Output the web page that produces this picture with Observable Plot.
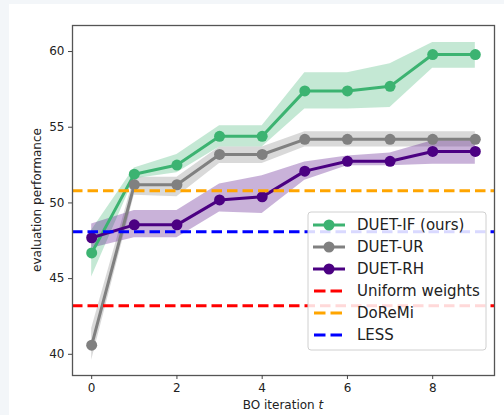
<!DOCTYPE html>
<html>
<head>
<meta charset="utf-8">
<script src="https://cdn.jsdelivr.net/npm/d3@7"></script>
<script src="https://cdn.jsdelivr.net/npm/@observablehq/plot@0.6"></script>
<style>
  html, body { margin: 0; padding: 0; background: #f3f6f9; }
  #wrap { position: relative; width: 504px; height: 415px; overflow: hidden; }
  #card { position: absolute; left: 9px; top: 4px; width: 495px; height: 411px; background: #ffffff; }
  #chart { position: absolute; left: 0; top: 0; }
</style>
</head>
<body>
<div id="wrap"><div id="card"></div><div id="chart"></div></div>
<script>
// ---- data ----
const iters = [0, 1, 2, 3, 4, 5, 6, 7, 8, 9];

const ifMean = [46.7, 51.9, 52.5, 54.4, 54.4, 57.4, 57.4, 57.7, 59.8, 59.8];
const ifLow  = [45.1, 51.6, 52.0, 53.7, 53.7, 56.2, 56.2, 56.3, 58.9, 58.9];
const ifHigh = [48.2, 52.3, 53.2, 55.1, 55.1, 58.6, 58.6, 59.2, 60.6, 60.6];

const urMean = [40.6, 51.2, 51.2, 53.2, 53.2, 54.2, 54.2, 54.2, 54.2, 54.2];
const urLow  = [39.6, 50.5, 50.4, 52.6, 52.6, 53.7, 53.7, 53.7, 53.7, 53.7];
const urHigh = [41.7, 51.7, 51.7, 53.7, 53.7, 54.7, 54.7, 54.7, 54.7, 54.7];

const rhMean = [47.7, 48.55, 48.55, 50.2, 50.4, 52.1, 52.75, 52.75, 53.4, 53.4];
const rhLow  = [47.0, 47.7, 47.7, 49.4, 49.3, 51.5, 52.45, 52.45, 52.55, 52.55];
const rhHigh = [48.6, 49.5, 49.5, 51.25, 51.8, 52.7, 53.1, 53.3, 54.1, 54.1];

const baselineNames = ["Uniform weights", "DoReMi", "LESS"];
const baselineValues = [43.2, 50.8, 48.1];

const seriesNames = ["DUET-IF (ours)", "DUET-UR", "DUET-RH"];
const xTicks = [0, 2, 4, 6, 8];
const yTicks = [40, 45, 50, 55, 60];

// ---- styles ----
const seriesColors = ["#3cb371", "#808080", "#4b0082"];
const baselineColors = ["#ff0000", "#ffa500", "#0000ff"];
const dash = "10.5,5";

const means = [ifMean, urMean, rhMean];
const lows = [ifLow, urLow, rhLow];
const highs = [ifHigh, urHigh, rhHigh];

const rows = [];
seriesNames.forEach((s, k) => {
  iters.forEach((t, i) => rows.push({series: s, t, mean: means[k][i], lo: lows[k][i], hi: highs[k][i]}));
});
const baselines = baselineNames.map((n, i) => ({name: n, value: baselineValues[i]}));

const colorOf = s => seriesColors[seriesNames.indexOf(s)];
const bColorOf = n => baselineColors[baselineNames.indexOf(n)];

const marks = [];
seriesNames.forEach((s, k) => {
  const d = rows.filter(r => r.series === s);
  marks.push(Plot.areaY(d, {x: "t", y1: "lo", y2: "hi", fill: seriesColors[k], fillOpacity: 0.3}));
});
seriesNames.forEach((s, k) => {
  const d = rows.filter(r => r.series === s);
  marks.push(Plot.line(d, {x: "t", y: "mean", stroke: seriesColors[k], strokeWidth: 3}));
  marks.push(Plot.dot(d, {x: "t", y: "mean", fill: seriesColors[k], r: 5.5, stroke: "none"}));
});
baselines.forEach((b, i) => {
  marks.push(Plot.ruleY([b], {y: "value", stroke: baselineColors[i], strokeWidth: 3, strokeDasharray: dash}));
});

const chart = Plot.plot({
  width: 504,
  height: 415,
  marginLeft: 72,
  marginRight: 10,
  marginTop: 25,
  marginBottom: 40,
  style: {background: "transparent", fontFamily: "DejaVu Sans", fontSize: "12px", color: "#222"},
  x: {domain: [-0.45, 9.45]},
  y: {domain: [38.6, 61.72]},
  marks: [
    ...marks,
    Plot.frame({stroke: "#555", strokeWidth: 1.3}),
    Plot.axisX({ticks: xTicks, tickSize: 4, tickPadding: 4, label: null, fontSize: 12, stroke: "#444"}),
    Plot.axisY({ticks: yTicks, tickSize: 4, tickPadding: 4, label: null, fontSize: 12, stroke: "#444"})
  ]
});
document.getElementById("chart").appendChild(chart);

// ---- axis titles and legend ----
const svg = d3.select(chart);
svg.append("text")
  .attr("transform", "translate(37,200) rotate(-90)")
  .attr("text-anchor", "middle")
  .attr("dominant-baseline", "middle")
  .attr("font-family", "DejaVu Sans").attr("font-size", 12).attr("fill", "#222")
  .text("evaluation performance");
const xl = svg.append("text")
  .attr("x", 283).attr("y", 409)
  .attr("text-anchor", "middle")
  .attr("font-family", "DejaVu Sans").attr("font-size", 12).attr("fill", "#222");
xl.append("tspan").text("BO iteration ");
xl.append("tspan").attr("font-style", "italic").text("t");

const lg = svg.append("g");
lg.append("rect").attr("x", 308).attr("y", 212).attr("width", 178).attr("height", 138)
  .attr("rx", 3).attr("fill", "#fff").attr("fill-opacity", 0.85).attr("stroke", "#d0d0d0").attr("stroke-width", 1);
const legendItems = [
  ...seriesNames.map(n => ({name: n, color: colorOf(n), kind: "series"})),
  ...baselineNames.map(n => ({name: n, color: bColorOf(n), kind: "base"}))
];
legendItems.forEach((it, i) => {
  const y = 225 + i * 22;
  const l = lg.append("line").attr("x1", 313).attr("x2", 345).attr("y1", y).attr("y2", y)
    .attr("stroke", it.color).attr("stroke-width", 3);
  if (it.kind === "series") {
    lg.append("circle").attr("cx", 329).attr("cy", y).attr("r", 5.5).attr("fill", it.color);
  } else {
    l.attr("stroke-dasharray", "11.5,5").attr("x1", 314);
  }
  lg.append("text").attr("x", 357).attr("y", y).attr("dominant-baseline", "central")
    .attr("text-anchor", "start")
    .attr("font-family", "DejaVu Sans").attr("font-size", 15).attr("fill", "#222")
    .text(it.name);
});
</script>
</body>
</html>
